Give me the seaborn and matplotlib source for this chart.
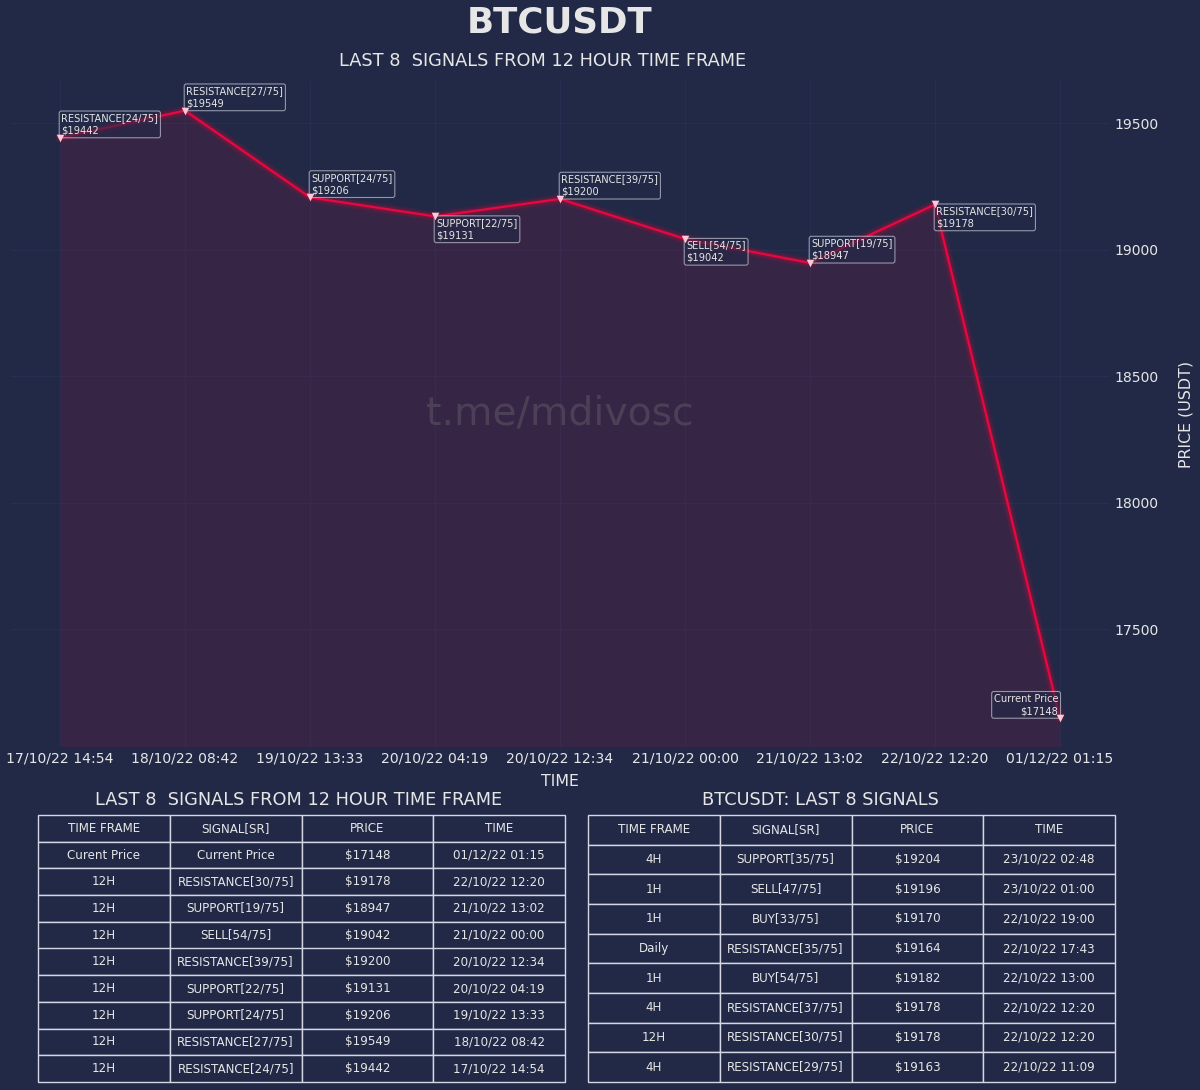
import matplotlib
matplotlib.use('Agg')
import matplotlib.pyplot as plt
import pandas as pd
import seaborn as sns

BG = '#212946'
GRID = '#2A3459'
TEXT = '#e6e6e6'
LINE = '#e8073f'

times = ['17/10/22 14:54', '18/10/22 08:42', '19/10/22 13:33', '20/10/22 04:19', '20/10/22 12:34',
         '21/10/22 00:00', '21/10/22 13:02', '22/10/22 12:20', '01/12/22 01:15']
prices = [19442, 19549, 19206, 19131, 19200, 19042, 18947, 19178, 17148]
signals = ['RESISTANCE[24/75]', 'RESISTANCE[27/75]', 'SUPPORT[24/75]', 'SUPPORT[22/75]', 'RESISTANCE[39/75]',
           'SELL[54/75]', 'SUPPORT[19/75]', 'RESISTANCE[30/75]', 'Current Price']
yticks = [17500, 18000, 18500, 19000, 19500]

table_cols = ['TIME FRAME', 'SIGNAL[SR]', 'PRICE', 'TIME']
left_frames = ['Curent Price', '12H', '12H', '12H', '12H', '12H', '12H', '12H', '12H']
left_signals = ['Current Price', 'RESISTANCE[30/75]', 'SUPPORT[19/75]', 'SELL[54/75]', 'RESISTANCE[39/75]',
                'SUPPORT[22/75]', 'SUPPORT[24/75]', 'RESISTANCE[27/75]', 'RESISTANCE[24/75]']
left_prices = ['$17148', '$19178', '$18947', '$19042', '$19200', '$19131', '$19206', '$19549', '$19442']
left_times = ['01/12/22 01:15', '22/10/22 12:20', '21/10/22 13:02', '21/10/22 00:00', '20/10/22 12:34',
              '20/10/22 04:19', '19/10/22 13:33', '18/10/22 08:42', '17/10/22 14:54']
right_frames = ['4H', '1H', '1H', 'Daily', '1H', '4H', '12H', '4H']
right_signals = ['SUPPORT[35/75]', 'SELL[47/75]', 'BUY[33/75]', 'RESISTANCE[35/75]', 'BUY[54/75]',
                 'RESISTANCE[37/75]', 'RESISTANCE[30/75]', 'RESISTANCE[29/75]']
right_prices = ['$19204', '$19196', '$19170', '$19164', '$19182', '$19178', '$19178', '$19163']
right_times = ['23/10/22 02:48', '23/10/22 01:00', '22/10/22 19:00', '22/10/22 17:43', '22/10/22 13:00',
               '22/10/22 12:20', '22/10/22 12:20', '22/10/22 11:09']

# annotation placement per point: below the point or above it
below = [False, False, False, True, False, True, False, True, False]

W, H = 1200, 1090


def axes_box(x0, y0, x1, y1):
    # pixel box (top-left origin) to figure fractions
    return [x0 / W, 1 - y1 / H, (x1 - x0) / W, (y1 - y0) / H]


def draw_table(ax, rows, title, title_x):
    ax.axis('off')
    ax.set_title(title, color=TEXT, fontsize=12.75, pad=7, x=title_x)
    tbl = ax.table(cellText=rows, colLabels=table_cols, cellLoc='center', bbox=[0, 0, 1, 1])
    tbl.auto_set_font_size(False)
    tbl.set_fontsize(8.6)
    for cell in tbl.get_celld().values():
        cell.set_facecolor(BG)
        cell.set_edgecolor('#d5d7e4')
        cell.set_linewidth(1.0)
        cell.get_text().set_color(TEXT)


sns.set_theme(style='dark', rc={
    'figure.facecolor': BG, 'axes.facecolor': BG, 'savefig.facecolor': BG,
    'text.color': TEXT, 'axes.labelcolor': TEXT, 'xtick.color': TEXT, 'ytick.color': TEXT,
    'axes.edgecolor': BG, 'grid.color': GRID,
})
plt.rcParams['font.family'] = ['DejaVu Sans']

fig = plt.figure(figsize=(12, 10.9), dpi=100)
ax = fig.add_axes(axes_box(10, 80, 1110, 748))

df = pd.DataFrame({'time': times, 'price': prices})

# glow under the main line
for lw, alpha in [(8, 0.05), (6.5, 0.07), (5, 0.09), (3.5, 0.14)]:
    sns.lineplot(data=df, x='time', y='price', sort=False, color=LINE, lw=lw, alpha=alpha, ax=ax, zorder=2)
sns.lineplot(data=df, x='time', y='price', sort=False, color=LINE, lw=1.6, ax=ax, zorder=3)
sns.scatterplot(data=df, x='time', y='price', marker='v', s=30, color='#ffc8d8', linewidth=0, ax=ax, zorder=6)

ax.set_xlim(-0.4, 8.4)
ax.set_ylim(17030, 19670)
ax.fill_between(times, prices, 17030, color=LINE, alpha=0.11, lw=0, zorder=1)

ax.grid(True, color=GRID, lw=0.8, alpha=0.6)
ax.set_axisbelow(True)
ax.yaxis.tick_right()
ax.yaxis.set_label_position('right')
ax.set_yticks(yticks)
ax.tick_params(axis='x', labelsize=10.1, length=0, pad=2.5)
ax.tick_params(axis='y', labelsize=10.1, length=0, pad=3.5)
ax.set_xlabel('TIME', fontsize=11.4, labelpad=6)
ax.set_ylabel('PRICE (USDT)', fontsize=11.4, labelpad=14)
ax.set_title('LAST 8  SIGNALS FROM 12 HOUR TIME FRAME', fontsize=12.75, color=TEXT, pad=10, x=0.4845)
fig.text(0.4667, 0.9795, 'BTCUSDT', fontsize=25.7, fontweight='bold', color=TEXT, ha='center', va='center')

ax.text(0.5, 0.5, 't.me/mdivosc', transform=ax.transAxes, fontsize=28.4, color='gray', alpha=0.3,
        ha='center', va='center', zorder=2)

box = dict(boxstyle='round,pad=0.22', facecolor=BG, edgecolor='#dfe0ea', alpha=0.6, lw=0.8)
for i, (t, p, s) in enumerate(zip(times, prices, signals)):
    label = f'{s}\n${p}'
    if s == 'Current Price':
        ax.annotate(label, xy=(t, p), xytext=(-1.2, 1.5), textcoords='offset points', fontsize=7.1, linespacing=1.3,
                    ha='right', va='bottom', color=TEXT, bbox=box, multialignment='right', zorder=5)
    elif below[i]:
        ax.annotate(label, xy=(t, p), xytext=(1.0, -1.2), textcoords='offset points', fontsize=7.1, linespacing=1.3,
                    ha='left', va='top', color=TEXT, bbox=box, zorder=5)
    else:
        ax.annotate(label, xy=(t, p), xytext=(1.0, 1.5), textcoords='offset points', fontsize=7.1, linespacing=1.3,
                    ha='left', va='bottom', color=TEXT, bbox=box, zorder=5)

left_rows = [list(r) for r in zip(left_frames, left_signals, left_prices, left_times)]
right_rows = [list(r) for r in zip(right_frames, right_signals, right_prices, right_times)]

ax_left = fig.add_axes(axes_box(38, 815, 565, 1082))
draw_table(ax_left, left_rows, 'LAST 8  SIGNALS FROM 12 HOUR TIME FRAME', 0.495)
ax_right = fig.add_axes(axes_box(588, 815, 1115, 1082))
draw_table(ax_right, right_rows, 'BTCUSDT: LAST 8 SIGNALS', 0.442)

fig.savefig('out.png', dpi=100, facecolor=BG)
plt.close(fig)
